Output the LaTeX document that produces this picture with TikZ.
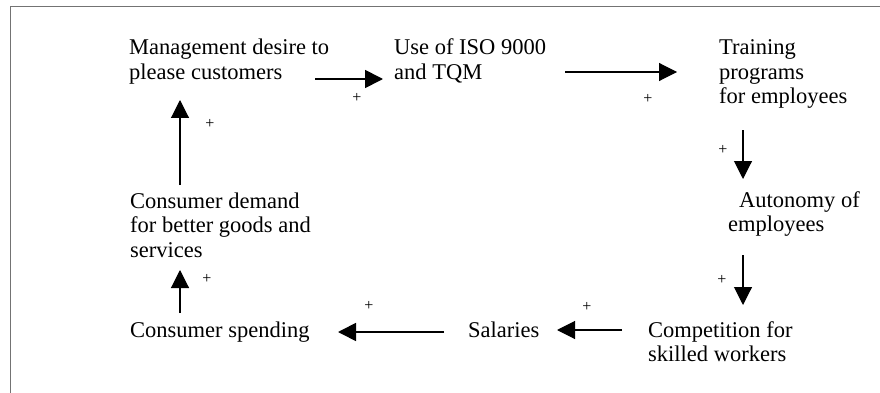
\documentclass[tikz,border=0pt]{standalone}
\usepackage{fontspec}
\setmainfont{Liberation Serif}
\usetikzlibrary{arrows.meta}
\newcommand{\mlines}[1]{\begin{tabular}[t]{@{}l@{}}#1\end{tabular}}
\begin{document}
\begin{tikzpicture}[x=1pt,y=-1pt,
  lbl/.style={anchor=base west, inner sep=0pt, font=\fontsize{22.5}{24.5}\selectfont},
  pl/.style={inner sep=0pt, font=\fontsize{16}{16}\selectfont},
  arr/.style={line width=1.1pt, -{Triangle[length=18pt,width=18pt]}},
  arrb/.style={arr, line width=1.7pt},
  frame/.style={draw=black!55, line width=0.9pt}]
\useasboundingbox (0,0) rectangle (880,393);
% frame
\coordinate (fr1) at (10,393);
\coordinate (fr2) at (10,6);
\coordinate (fr3) at (880,6);
\draw[frame] (fr1) -- (fr2) -- (fr3);
% texts
\node[lbl] (mgmt) at (129,55) {\mlines{Management desire to\\please customers}};
\node[lbl] (iso) at (394,55) {\mlines{Use of ISO 9000\\and TQM}};
\node[lbl] (train) at (719,55) {\mlines{Training\\programs\\for employees}};
\node[lbl] (auton) at (728,207) {\mlines{\hspace{11pt}Autonomy of\\employees}};
\node[lbl] (comp) at (648,337) {\mlines{Competition for\\skilled workers}};
\node[lbl] (sal) at (468,337) {Salaries};
\node[lbl] (spend) at (130,337) {Consumer spending};
\node[lbl] (demand) at (130,208) {\mlines{Consumer demand\\for better goods and\\services}};
% arrow end points
\coordinate (a1s) at (315,79);  \coordinate (a1e) at (383,79);
\coordinate (a2s) at (565,72);  \coordinate (a2e) at (677,72);
\coordinate (d1s) at (743,130); \coordinate (d1e) at (743,179);
\coordinate (d2s) at (743,255); \coordinate (d2e) at (743,305);
\coordinate (l1s) at (622,330); \coordinate (l1e) at (557,330);
\coordinate (l2s) at (444,332); \coordinate (l2e) at (338,332);
\coordinate (u1s) at (180,313); \coordinate (u1e) at (180,270);
\coordinate (u2s) at (180,185); \coordinate (u2e) at (180,100);
\draw[arrb] (a1s) -- (a1e);
\draw[arr] (a2s) -- (a2e);
\draw[arr] (d1s) -- (d1e);
\draw[arr] (d2s) -- (d2e);
\draw[arr] (l1s) -- (l1e);
\draw[arrb] (l2s) -- (l2e);
\draw[arr] (u1s) -- (u1e);
\draw[arr] (u2s) -- (u2e);
% plus signs
\node[pl] (p1) at (357,98) {+};
\node[pl] (p2) at (648,99) {+};
\node[pl] (p3) at (723,150) {+};
\node[pl] (p4) at (722,280) {+};
\node[pl] (p5) at (587,307) {+};
\node[pl] (p6) at (369,306) {+};
\node[pl] (p7) at (207,279) {+};
\node[pl] (p8) at (210,124) {+};
\end{tikzpicture}
\end{document}
